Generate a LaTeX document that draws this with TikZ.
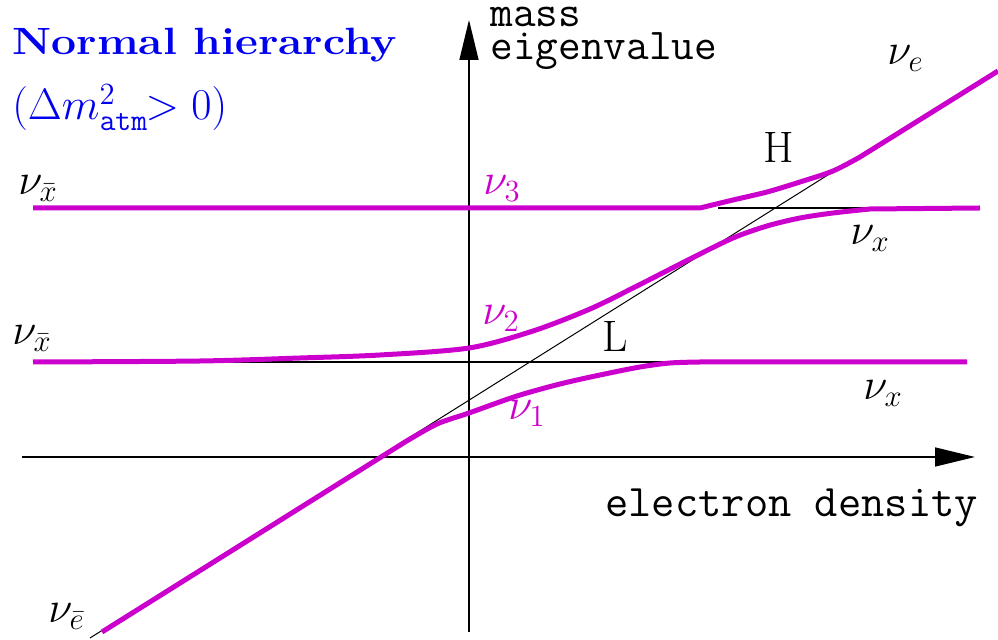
\documentclass[tikz,border=0pt]{standalone}
\usepackage{fix-cm}
\usepackage{graphicx}
\usepackage{tikz}
\usetikzlibrary{arrows.meta}
\definecolor{nupink}{RGB}{204,0,204}
\definecolor{hierblue}{RGB}{0,0,240}
\newcommand{\lblsize}{\fontsize{22}{26}\selectfont}

\begin{document}
\begin{tikzpicture}[x=0.5pt, y=-0.5pt,
    axis/.style={line width=0.75pt, -{Triangle[length=20pt, width=9.5pt]}},
    guide/.style={line width=0.5pt},
    level/.style={line width=2.5pt, nupink, line join=round},
    lbl/.style={anchor=base west, inner sep=0pt, font=\lblsize}]
  \useasboundingbox (0,0) rectangle (998,640);
  % axes
  \draw[axis] (22,457) -- (975,457);
  \draw[axis] (469,632) -- (469,20);
  \node[lbl, font=\lblsize\ttfamily] (mass) at (490,27) {mass};
  \node[lbl, font=\lblsize\ttfamily] (eigen) at (490,60) {eigenvalue};
  \node[lbl, font=\fontsize{22.6}{26}\selectfont\ttfamily] (dens) at (605,517) {electron density};
  % title
  \node[lbl, hierblue, font=\fontsize{19}{22}\selectfont\bfseries] (title) at (12,55) {\scalebox{1.17}[1]{Normal hierarchy}};
  \node[lbl, hierblue] (cond) at (12,120) {$(\Delta m^2_{\mathtt{atm}}\!\!> 0)$};
  % unmixed levels
  \draw[guide] (90,638) -- (847,163);
  \draw[line width=0.75pt] (205,362) -- (670,362);
  \draw[line width=0.75pt] (718,208) -- (873,208);
  % eigenvalues
  \draw[level] (33,208) -- (700,208) -- plot[smooth] coordinates {(700,208) (733,200) (767,192) (800,182) (833,171) (860,157)} -- (998,71);
  \draw[level] plot[smooth] coordinates {(33,362) (200,361) (300,358) (380,355) (469,348) (533,331) (590,309) (637,286) (690,259) (733,238) (767,226) (800,218) (833,213) (870,209)} -- (980,208);
  \draw[level] (102,632) -- (405,442) -- plot[smooth] coordinates {(405,442) (437,424) (469,413) (517,396) (560,384) (600,375) (640,367) (670,363) (700,362)} -- (967,362);
  % labels
  \node[lbl] (nuxbarH) at (18,195) {$\nu_{\bar x}$};
  \node[lbl] (nuxbarL) at (12,345) {$\nu_{\bar x}$};
  \node[lbl] (nuebar) at (48,623) {$\nu_{\bar e}$};
  \node[lbl] (nue) at (887,65) {$\nu_e$};
  \node[lbl] (nuxH) at (850,245) {$\nu_x$};
  \node[lbl] (nuxL) at (863,400) {$\nu_x$};
  \node[lbl, nupink] (nu3) at (483,195) {$\nu_3$};
  \node[lbl, nupink] (nu2) at (482,325) {$\nu_2$};
  \node[lbl, nupink] (nu1) at (508,420) {$\nu_1$};
  \node[lbl] (resH) at (763,163) {H};
  \node[lbl] (resL) at (602,352) {L};
\end{tikzpicture}
\end{document}
